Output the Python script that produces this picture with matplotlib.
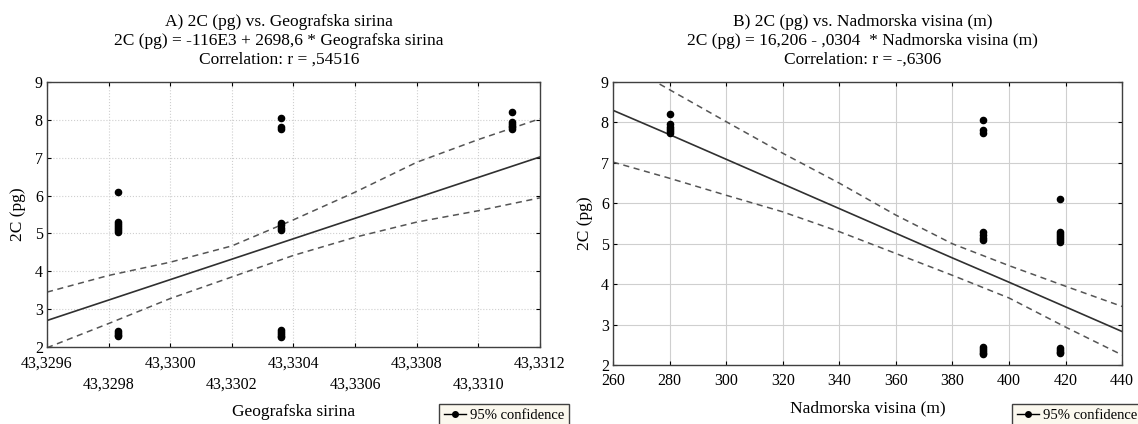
import matplotlib
matplotlib.use("Agg")
import matplotlib.pyplot as plt
from matplotlib.lines import Line2D

plt.rcParams['font.family'] = ['Liberation Serif', 'DejaVu Serif']
plt.rcParams['font.size'] = 11

# measured points: latitude / altitude of the three sites and 2C values
lat_sites = [43.32983, 43.33036, 43.33111]
alt_sites = [418, 391, 280]
c2_values = [
    [6.10, 5.30, 5.25, 5.20, 5.15, 5.10, 5.05, 2.42, 2.38, 2.33, 2.30],
    [8.05, 7.82, 7.75, 5.28, 5.22, 5.15, 5.10, 2.45, 2.40, 2.35, 2.30, 2.27],
    [8.20, 7.95, 7.90, 7.85, 7.80, 7.75],
]

# regression line + 95% confidence band, panel A
lat_grid = [43.3296, 43.3298, 43.3300, 43.3302, 43.3304, 43.3306, 43.3308, 43.3310, 43.3312]
lat_fit = [2.70, 3.24, 3.78, 4.32, 4.86, 5.40, 5.94, 6.48, 7.02]
lat_upper = [3.45, 3.89, 4.24, 4.67, 5.36, 6.09, 6.88, 7.48, 8.03]
lat_lower = [1.98, 2.62, 3.28, 3.85, 4.42, 4.90, 5.30, 5.60, 5.94]

# regression line + 95% confidence band, panel B
alt_grid = [260, 280, 300, 320, 340, 360, 380, 400, 420, 440]
alt_fit = [8.30, 7.70, 7.09, 6.48, 5.87, 5.26, 4.65, 4.05, 3.44, 2.83]
alt_upper = [9.60, 8.81, 8.02, 7.24, 6.50, 5.71, 5.00, 4.46, 3.95, 3.45]
alt_lower = [7.02, 6.62, 6.20, 5.79, 5.30, 4.76, 4.22, 3.66, 2.94, 2.25]

lat_ticks = [43.3296, 43.3298, 43.3300, 43.3302, 43.3304, 43.3306, 43.3308, 43.3310, 43.3312]
alt_ticks = [260, 280, 300, 320, 340, 360, 380, 400, 420, 440]

fig = plt.figure(figsize=(11.38, 4.24), dpi=100)
axA = fig.add_axes([0.0413, 0.1816, 0.4332, 0.625])
axB = fig.add_axes([0.5387, 0.139, 0.4473, 0.6675])


def style_axes(ax, grid_ls):
    ax.set_ylim(2, 9)
    ax.set_yticks(range(2, 10))
    ax.grid(True, color='#cfcfcf', lw=0.8, ls=grid_ls)
    ax.set_axisbelow(True)
    ax.tick_params(direction='in', top=True, right=True, length=3, labelsize=11.5)
    ax.tick_params(axis='x', pad=6)
    ax.tick_params(axis='y', pad=3)
    for s in ax.spines.values():
        s.set_color('#404040')
        s.set_linewidth(1.0)
    ax.set_ylabel('2C (pg)', fontsize=12.5, labelpad=6)


def dashed(ax, xs, ys):
    ax.plot(xs, ys, color='#555555', lw=1.1, ls=(0, (4, 3)))


# panel A
for xs, ys in zip(lat_sites, c2_values):
    axA.scatter([xs] * len(ys), ys, s=20, color='black', zorder=3)
axA.plot(lat_grid, lat_fit, color='#303030', lw=1.2)
dashed(axA, lat_grid, lat_upper)
dashed(axA, lat_grid, lat_lower)
axA.set_xlim(43.3296, 43.3312)
axA.set_xticks(lat_ticks)
labsA = []
for i, t in enumerate(lat_ticks):
    s = ('%.4f' % t).replace('.', ',')
    labsA.append(s if i % 2 == 0 else '\n' + s)
axA.set_xticklabels(labsA, linespacing=1.45)
style_axes(axA, ':')
axA.set_xlabel('Geografska sirina', fontsize=12.5, labelpad=8)
axA.set_title('A) 2C (pg) vs. Geografska sirina\n'
              '2C (pg) = -116E3 + 2698,6 * Geografska sirina\n'
              'Correlation: r = ,54516', fontsize=12.5, linespacing=1.25,
              pad=13, x=0.47)

# panel B
for xs, ys in zip(alt_sites, c2_values):
    axB.scatter([xs] * len(ys), ys, s=20, color='black', zorder=3)
axB.plot(alt_grid, alt_fit, color='#303030', lw=1.2)
dashed(axB, alt_grid, alt_upper)
dashed(axB, alt_grid, alt_lower)
axB.set_xlim(260, 440)
axB.set_xticks(alt_ticks)
style_axes(axB, '-')
axB.set_xlabel('Nadmorska visina (m)', fontsize=12.5, labelpad=8)
axB.set_title('B) 2C (pg) vs. Nadmorska visina (m)\n'
              '2C (pg) = 16,206 - ,0304  * Nadmorska visina (m)\n'
              'Correlation: r = -,6306', fontsize=12.5, linespacing=1.25,
              pad=13, x=0.49)

# legend boxes
handle = Line2D([], [], color='black', marker='o', markersize=4, lw=1)
for x0 in [432 / 1138, 1005 / 1138]:
    fig.legend([handle], ['95% confidence'], loc='upper left',
               bbox_to_anchor=(x0, 1 - 397 / 424), frameon=True,
               fancybox=False, edgecolor='#404040', facecolor='#fbf8ee',
               fontsize=10.5, handlelength=1.5, handletextpad=0.3,
               borderpad=0.3, framealpha=1)

fig.savefig('out.png', dpi=100)
